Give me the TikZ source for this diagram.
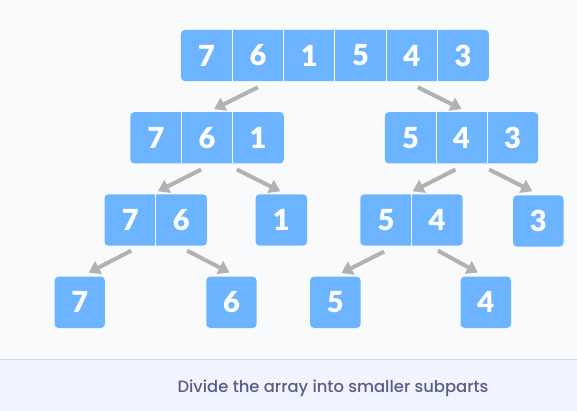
\documentclass[tikz,border=0pt]{standalone}
\usepackage{fontspec}
\setmainfont{Lato}
\newfontfamily\digitfont{Lato Black}
\newfontfamily\captionfont{Poppins Medium}
\usepackage{tikz}
\usetikzlibrary{arrows.meta,backgrounds}
\definecolor{cellblue}{RGB}{108,180,255}
\definecolor{arrowgray}{RGB}{178,178,178}
\definecolor{pagebg}{RGB}{249,250,252}
\definecolor{bandbg}{RGB}{240,244,254}
\definecolor{bandline}{RGB}{212,218,230}
\definecolor{captiontext}{RGB}{92,92,138}

\begin{document}
\begin{tikzpicture}[x=1pt,y=-1pt,
  cell/.style={minimum width=51pt,minimum height=51pt,inner sep=0pt,text=white,
    font=\digitfont\fontsize{29}{29}\selectfont},
  single/.style={cell,minimum width=50pt},
  arr/.style={draw=arrowgray,line width=4pt,-{Triangle[width=14pt,length=11pt]}},
  divider/.style={draw=white,line width=1pt},
  box/.style={fill=cellblue,rounded corners=4pt}]
\useasboundingbox (0,0) rectangle (577,411);
\begin{scope}[on background layer]
\fill[pagebg] (0,0) rectangle (577,411);
\fill[bandbg] (0,359) rectangle (577,411);
\draw[bandline,line width=1pt] (0,359) -- (577,359);
\end{scope}

% whole array
\foreach \d [count=\i] in {7,6,1,5,4,3} {
\node[cell] (a\i) at ({155.35+51.3*\i},55.5) {\d};
}
% first split
\foreach \d [count=\i] in {7,6,1} {
\node[cell] (b\i) at ({105.1+51*\i},137.8) {\d};
}
\foreach \d [count=\i] in {5,4,3} {
\node[cell] (c\i) at ({359.5+51*\i},137.8) {\d};
}
% second split
\foreach \d [count=\i] in {7,6} {
\node[cell] (d\i) at ({79.2+51*\i},220) {\d};
}
\node[cell] (e1) at (281.3,220) {1};
\foreach \d [count=\i] in {5,4} {
\node[cell] (f\i) at ({335+51*\i},220) {\d};
}
\node[single] (g1) at (538.3,221) {3};
% single elements
\node[single] (h1) at (79.7,302.3) {7};
\node[single] (h2) at (231.5,302.3) {6};
\node[single] (h3) at (335.4,302.3) {5};
\node[single] (h4) at (485.8,302.3) {4};

\begin{scope}[on background layer]
\path[box] (a1.north west) rectangle (a6.south east);
\path[box] (b1.north west) rectangle (b3.south east);
\path[box] (c1.north west) rectangle (c3.south east);
\path[box] (d1.north west) rectangle (d2.south east);
\path[box] (f1.north west) rectangle (f2.south east);
\foreach \n in {e1,g1,h1,h2,h3,h4} {
\path[box] (\n.north west) rectangle (\n.south east);
}
\end{scope}

% cell borders
\foreach \i in {1,...,5} {
\draw[divider] (a\i.north east) -- (a\i.south east);
}
\foreach \i in {1,2} {
\draw[divider] (b\i.north east) -- (b\i.south east);
\draw[divider] (c\i.north east) -- (c\i.south east);
}
\draw[divider] (d1.north east) -- (d1.south east);
\draw[divider] (f1.north east) -- (f1.south east);

% arrows
\draw[arr] ([shift={(0,6)}]a2.south) -- ([shift={(7,-3)}]b2.north);
\draw[arr] ([shift={(6,6)}]a5.south) -- ([shift={(0,-3)}]c2.north);
\draw[arr] ([shift={(-6,6)}]b2.south) -- ([shift={(2,-3)}]d1.north east);
\draw[arr] ([shift={(4,6)}]b2.south east) -- ([shift={(-1,-3)}]e1.north);
\draw[arr] ([shift={(-6,6)}]c2.south) -- ([shift={(1,-3)}]f1.north east);
\draw[arr] ([shift={(2,6)}]c2.south east) -- ([shift={(-6,-4)}]g1.north);
\draw[arr] ([shift={(1,5)}]d1.south) -- ([shift={(9,-4)}]h1.north);
\draw[arr] ([shift={(6,5)}]d2.south) -- ([shift={(-2,-4)}]h2.north);
\draw[arr] ([shift={(-2,6)}]f1.south) -- ([shift={(6,-3.5)}]h3.north);
\draw[arr] ([shift={(1,5)}]f2.south) -- ([shift={(-8,-4)}]h4.north);

\node[anchor=base,text=captiontext,font=\captionfont\fontsize{16.4}{16.4}\selectfont]
  (caption) at (333,392.3) {Divide the array into smaller subparts};
\end{tikzpicture}
\end{document}
